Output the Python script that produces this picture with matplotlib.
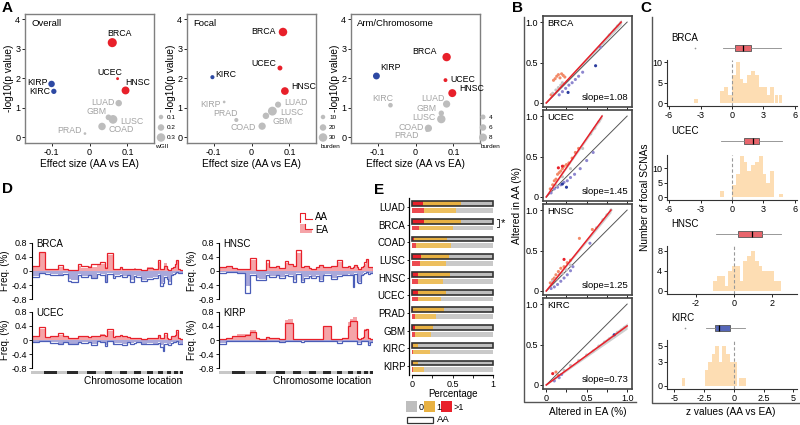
import numpy as np
import matplotlib.pyplot as plt

plt.rcParams['font.family'] = ['Liberation Sans', 'DejaVu Sans']
plt.rcParams['axes.unicode_minus'] = False
plt.rcParams['xtick.labelsize'] = 6.5
plt.rcParams['ytick.labelsize'] = 6.5
plt.rcParams['xtick.major.size'] = 2.2
plt.rcParams['ytick.major.size'] = 2.2
plt.rcParams['xtick.major.width'] = 0.6
plt.rcParams['ytick.major.width'] = 0.6
plt.rcParams['xtick.major.pad'] = 1.2
plt.rcParams['ytick.major.pad'] = 1.2

RED = "#E8202A"
BLUE = "#2D49A3"
GRAY = "#BDBDBD"
TXT_GRAY = "#A3A3A3"

# =========================
# A: effect size vs p value
# =========================
a_names = ["BRCA", "UCEC", "HNSC", "KIRP", "KIRC", "LUAD", "GBM", "LUSC", "COAD", "PRAD"]

overall_x = [0.060, 0.074, 0.095, -0.100, -0.094, 0.077, 0.050, 0.062, 0.033, -0.012]
overall_y = [3.20, 1.98, 1.58, 1.80, 1.55, 1.15, 0.67, 0.60, 0.36, 0.12]
overall_wgii = [0.33, 0.02, 0.27, 0.20, 0.14, 0.20, 0.16, 0.31, 0.25, 0.01]
overall_col = ["r", "r", "r", "b", "b", "g", "g", "g", "g", "g"]

focal_x = [0.083, 0.075, 0.088, -0.072, -0.103, 0.070, 0.038, 0.055, 0.028, -0.040]
focal_y = [3.56, 2.34, 1.56, 1.19, 2.03, 1.10, 0.72, 0.88, 0.37, 0.58]
focal_burden = [30, 12, 26, 1, 8, 18, 20, 32, 24, 8]
focal_col = ["r", "r", "r", "g", "b", "g", "g", "g", "g", "g"]

arm_x = [0.082, 0.079, 0.097, -0.103, -0.066, 0.082, 0.068, 0.068, 0.034, 0.030]
arm_y = [2.71, 1.93, 1.49, 2.07, 1.08, 1.12, 0.81, 0.61, 0.30, 0.22]
arm_burden = [8.5, 2.5, 8.0, 6.5, 3.5, 7.0, 4.5, 8.5, 7.0, 1.0]
arm_col = ["r", "r", "r", "b", "g", "g", "g", "g", "g", "g"]

# =========================
# B: altered in AA vs EA
# =========================
b_names = ["BRCA", "UCEC", "HNSC", "KIRC"]
b_slopes = [1.08, 1.45, 1.25, 0.73]

brca_ea = [0.06, 0.09, 0.11, 0.13, 0.15, 0.17, 0.19, 0.21, 0.23, 0.08, 0.12, 0.15, 0.18, 0.20,
           0.16, 0.20, 0.24, 0.28, 0.32, 0.36, 0.40, 0.45, 0.27, 0.61, 0.67, 0.70, 0.78, 0.84, 0.88, 0.92]
brca_aa = [0.10, 0.28, 0.30, 0.33, 0.35, 0.31, 0.36, 0.34, 0.32, 0.12, 0.16, 0.19, 0.22, 0.25,
           0.10, 0.14, 0.18, 0.22, 0.25, 0.29, 0.33, 0.38, 0.13, 0.46, 0.69, 0.74, 0.84, 0.90, 0.95, 0.99]
brca_grp = "sssssssss" + "ggggg" + "pppppppp" + "b" + "b" + "p" + "ggggg"

ucec_ea = [0.05, 0.08, 0.10, 0.12, 0.14, 0.16, 0.18, 0.20, 0.22, 0.25, 0.28, 0.32, 0.36, 0.40, 0.15, 0.20,
           0.06, 0.10, 0.14, 0.18, 0.22, 0.26, 0.30, 0.35, 0.42, 0.50, 0.58, 0.20, 0.25,
           0.12, 0.20, 0.30, 0.45, 0.55, 0.60, 0.65]
ucec_aa = [0.10, 0.15, 0.20, 0.22, 0.28, 0.30, 0.32, 0.35, 0.38, 0.40, 0.42, 0.48, 0.55, 0.60, 0.36, 0.38,
           0.05, 0.10, 0.12, 0.15, 0.18, 0.20, 0.24, 0.28, 0.35, 0.45, 0.55, 0.16, 0.12,
           0.14, 0.25, 0.35, 0.60, 0.78, 0.85, 0.93]
ucec_grp = "ssssssssssssss" + "rr" + "ppppppppppp" + "bb" + "ggggggg"

hnsc_ea = [0.05, 0.08, 0.10, 0.12, 0.15, 0.18, 0.22, 0.26, 0.30, 0.22, 0.41, 0.57,
           0.06, 0.10, 0.14, 0.18, 0.22, 0.26, 0.30, 0.33, 0.54,
           0.08, 0.12, 0.16, 0.20, 0.25, 0.30, 0.62, 0.70, 0.75, 0.80]
hnsc_aa = [0.10, 0.14, 0.16, 0.20, 0.24, 0.28, 0.30, 0.35, 0.38, 0.39, 0.65, 0.76,
           0.03, 0.05, 0.08, 0.12, 0.16, 0.20, 0.25, 0.30, 0.59,
           0.12, 0.15, 0.20, 0.22, 0.26, 0.32, 0.78, 0.88, 0.94, 1.00]
hnsc_grp = "sssssssss" + "rss" + "ppppppppp" + "gggggg" + "gggg"

kirc_ea = [0.08, 0.12, 0.15, 0.10, 0.16, 0.19, 0.22, 0.30, 0.40, 0.50, 0.58, 0.65, 0.84,
           0.72, 0.78, 0.88, 0.93, 0.97]
kirc_aa = [0.14, 0.16, 0.12, 0.05, 0.09, 0.13, 0.18, 0.24, 0.30, 0.37, 0.42, 0.48, 0.62,
           0.53, 0.57, 0.65, 0.68, 0.71]
kirc_grp = "rss" + "ppp" + "gggggg" + "b" + "ggggg"

# =========================
# C: z value histograms (bin centres, counts) + box stats
# =========================
c_names = ["BRCA", "UCEC", "HNSC", "KIRC"]
brca_z = [-3.44, -0.92, -0.54, -0.19, 0.19, 0.54, 0.89, 1.24, 1.62, 2.00, 2.36, 2.74, 3.12, 3.47, 3.85, 4.24, 4.62]
brca_n = [1, 3, 4, 2, 7, 10, 6, 5, 7, 8, 7, 4, 4, 2, 4, 2, 2]
ucec_z = [-0.92, 0.19, 0.54, 0.92, 1.27, 1.65, 2.00, 2.38, 2.73, 3.11, 3.46, 3.84, 4.70]
ucec_n = [2, 4, 8, 14, 12, 9, 11, 12, 14, 8, 5, 9, 1]
hnsc_z = [-1.0, -0.8, -0.6, -0.4, -0.2, 0.0, 0.2, 0.4, 0.6, 0.8, 1.0, 1.2, 1.4, 1.6, 1.8, 2.0, 2.2, 2.4]
hnsc_n = [2, 3, 3, 1, 4, 5, 5, 2, 6, 7, 8, 6, 5, 4, 4, 4, 2, 2]
kirc_z = [-4.2, -2.3, -2.0, -1.7, -1.4, -1.1, -0.8, -0.5, -0.2, 0.1, 0.55, 0.85]
kirc_n = [1, 2, 3, 4, 5, 3, 5, 4, 3, 3, 1, 1]
c_bin_w = [0.36, 0.36, 0.2, 0.3]
c_xlim = [(-6.2, 6.2), (-6.2, 6.2), (-3.53, 3.32), (-5.6, 5.3)]
c_xticks = [[-6, -3, 0, 3, 6], [-6, -3, 0, 3, 6], [-2, 0, 2], [-5, -2.5, 0, 2.5, 5]]
c_yticks = [[0, 5, 10], [0, 5, 10], [0, 4, 8], [0, 3, 5]]
c_ylim = [(-0.7, 10.6), (-1.0, 14.5), (-0.6, 9.0), (-0.38, 5.75)]
c_box = [  # whislo, q1, med, q3, whishi, fliers
    (-0.9, 0.3, 1.05, 1.85, 4.7, [-3.5]),
    (-1.05, 1.1, 1.97, 2.6, 4.8, []),
    (-0.95, 0.23, 0.93, 1.49, 2.5, []),
    (-2.3, -1.58, -1.22, -0.33, 0.92, [-4.1]),
]

# =========================
# D: arm level frequency (arms 1p..22q, Mb)
# =========================
arm_len = [125, 124, 93, 150, 91, 107, 50, 141, 48, 133, 60, 111, 60, 99, 45, 101, 49, 92, 40, 96,
           53, 82, 35, 99, 115, 107, 102, 36, 54, 24, 57, 17, 61, 26, 33, 28, 35, 48, 51]
chrom_len = [249, 243, 198, 191, 181, 171, 159, 146, 141, 136, 135, 134, 115, 107, 102, 90, 81, 78, 59, 63, 48, 51]

brca_gain_aa = [.15, .55, .05, .06, .18, .05, .03, .03, .20, .15, .12, .20, .20, .25, .08, .52, .05, .06, .12, .05,
                .06, .05, .06, .05, .04, .08, .05, .30, .05, .05, .15, .06, .04, .08, .12, .20, .32, .05, .03]
brca_gain_ea = [.12, .50, .06, .07, .12, .06, .03, .04, .15, .08, .14, .12, .18, .20, .10, .45, .05, .07, .10, .05,
                .05, .07, .08, .05, .04, .10, .05, .25, .05, .04, .22, .05, .03, .07, .10, .20, .28, .04, .03]
brca_loss_aa = [-.18, -.06, -.08, -.10, -.12, -.08, -.28, -.30, -.10, -.18, -.12, -.20, -.08, -.10, -.32, -.08,
                -.20, -.15, -.10, -.18, -.12, -.30, -.15, -.18, -.28, -.22, -.20, -.10, -.42, -.35, -.18, -.22,
                -.38, -.12, -.08, -.06, -.04, -.05, -.06]
brca_loss_ea = [-.15, -.08, -.07, -.08, -.10, -.07, -.22, -.25, -.08, -.15, -.10, -.22, -.07, -.08, -.30, -.06,
                -.18, -.12, -.08, -.15, -.10, -.25, -.12, -.15, -.25, -.20, -.18, -.08, -.38, -.30, -.15, -.20,
                -.32, -.10, -.07, -.05, -.04, -.05, -.05]

ucec_gain_aa = [.12, .37, .08, .10, .20, .10, .05, .05, .12, .10, .08, .12, .12, .15, .10, .30, .08, .10, .15, .12,
                .08, .06, .07, .05, .04, .05, .06, .15, .05, .05, .20, .05, .04, .10, .12, .15, .28, .06, .03]
ucec_gain_ea = [.10, .30, .08, .09, .15, .08, .05, .05, .10, .08, .08, .10, .12, .18, .08, .25, .06, .08, .12, .10,
                .07, .06, .06, .05, .04, .05, .05, .12, .05, .04, .15, .04, .04, .08, .10, .12, .22, .05, .03]
ucec_loss_aa = [-.05, -.02, -.04, -.08, -.12, -.05, -.10, -.12, -.05, -.08, -.06, -.15, -.04, -.05, -.18, -.04,
                -.12, -.10, -.10, -.15, -.06, -.10, -.08, -.06, -.12, -.10, -.12, -.08, -.20, -.30, -.10, -.12,
                -.15, -.08, -.06, -.05, -.03, -.10, -.12]
ucec_loss_ea = [-.06, -.03, -.05, -.07, -.10, -.06, -.10, -.10, -.06, -.07, -.06, -.12, -.05, -.05, -.15, -.05,
                -.10, -.08, -.08, -.12, -.07, -.08, -.07, -.06, -.10, -.08, -.10, -.07, -.15, -.20, -.08, -.10,
                -.12, -.07, -.06, -.05, -.04, -.08, -.10]

hnsc_gain_aa = [.10, .15, .08, .06, .05, .38, .04, .03, .30, .12, .15, .08, .28, .20, .15, .60, .12, .15, .08, .06,
                .10, .18, .12, .10, .15, .32, .10, .15, .08, .10, .18, .12, .06, .12, .15, .25, .35, .10, .10]
hnsc_gain_ea = [.08, .12, .06, .06, .05, .32, .04, .03, .22, .10, .12, .08, .22, .18, .12, .50, .10, .12, .08, .06,
                .08, .15, .10, .08, .12, .25, .08, .12, .07, .08, .15, .10, .05, .10, .12, .20, .30, .08, .08]
hnsc_loss_aa = [-.05, -.03, -.04, -.05, -.62, -.10, -.25, -.25, -.10, -.18, -.12, -.20, -.10, -.15, -.30, -.08,
                -.32, -.20, -.15, -.20, -.15, -.28, -.12, -.10, -.22, -.15, -.12, -.10, -.12, -.45, -.08, -.30,
                -.35, -.12, -.08, -.05, -.03, -.08, -.05]
hnsc_loss_ea = [-.04, -.03, -.04, -.05, -.42, -.08, -.20, -.22, -.08, -.15, -.10, -.18, -.08, -.12, -.25, -.07,
                -.28, -.18, -.12, -.18, -.12, -.25, -.10, -.08, -.20, -.12, -.10, -.08, -.10, -.35, -.07, -.25,
                -.30, -.10, -.07, -.04, -.03, -.06, -.05]

kirp_gain_aa = [.02, .05, .10, .12, .15, .22, .05, .03, .08, .05, .05, .04, .48, .48, .03, .04, .02, .03, .04, .02,
                .03, .04, .40, .40, .03, .02, .05, .40, .55, .55, .55, .05, .03, .05, .08, .28, .30, .05, .04]
kirp_gain_ea = [.02, .06, .12, .18, .18, .28, .05, .03, .08, .06, .05, .04, .58, .60, .03, .04, .02, .03, .04, .02,
                .03, .04, .38, .38, .03, .02, .05, .50, .60, .65, .65, .05, .03, .05, .08, .32, .32, .05, .04]
kirp_loss_aa = [-.10, -.03, -.03, -.03, -.04, -.03, -.03, -.03, -.03, -.03, -.03, -.06, -.02, -.02, -.04, -.03,
                -.05, -.03, -.03, -.03, -.03, -.03, -.02, -.02, -.03, -.08, -.03, -.02, -.02, -.04, -.03, -.10,
                -.10, -.03, -.03, -.03, -.03, -.15, -.05]
kirp_loss_ea = [-.08, -.04, -.03, -.03, -.04, -.03, -.04, -.04, -.03, -.03, -.05, -.08, -.02, -.02, -.04, -.03,
                -.04, -.03, -.03, -.03, -.03, -.03, -.02, -.02, -.03, -.06, -.03, -.02, -.02, -.03, -.03, -.08,
                -.08, -.03, -.03, -.03, -.03, -.12, -.05]

# =========================
# E: fraction of samples with 0 / 1 / >1 events
# =========================
e_names = ["LUAD", "BRCA", "COAD", "LUSC", "HNSC", "UCEC", "PRAD", "GBM", "KIRC", "KIRP"]
e_aa_gt1 = [0.13, 0.14, 0.02, 0.11, 0.07, 0.07, 0.01, 0.03, 0.01, 0.01]
e_aa_one = [0.47, 0.46, 0.41, 0.35, 0.40, 0.35, 0.38, 0.23, 0.06, 0.06]
e_ea_gt1 = [0.15, 0.09, 0.05, 0.10, 0.07, 0.07, 0.03, 0.04, 0.01, 0.01]
e_ea_one = [0.39, 0.42, 0.43, 0.32, 0.31, 0.29, 0.27, 0.19, 0.21, 0.14]

# =========================
# figure helpers
# =========================
W, H = 800, 425
PX = 0.72  # points per pixel at 100 dpi
fig = plt.figure(figsize=(W / 100, H / 100), dpi=100)


def add_ax(l, t, r, b):
    return fig.add_axes([l / W, 1 - b / H, (r - l) / W, (b - t) / H])


col_a = {"r": RED, "b": BLUE, "g": GRAY}

# ---------- A ----------
a_panels = [
    ((25, 14, 154, 143), "Overall", overall_x, overall_y, overall_wgii, overall_col, (2.5, 20.0),
     [(7, -9, "center"), (-8, -6, "center"), (0, -8, "left"), (-4, -1, "right"), (-4, 0, "right"),
      (-4, -1, "right"), (-2, -6, "right"), (7, 2, "left"), (6, 3, "left"), (-3, -3, "right")]),
    ((187, 14, 316, 143), "Focal", focal_x, focal_y, focal_burden, focal_col, (2.5, 0.2),
     [(-7, -1, "right"), (-4, -5, "right"), (6, -5, "left"), (-3, 3, "right"), (3, -3, "left"),
      (6, -2, "left"), (7, 6, "left"), (8, 1, "left"), (-6, 1, "right"), (1, -6, "right")]),
    ((351, 14, 480, 143), "Arm/Chromosome", arm_x, arm_y, arm_burden, arm_col, (2.0, 0.75),
     [(-10, -6, "right"), (5, -1, "left"), (7, -5, "left"), (4, -8, "left"), (-8, -7, "center"),
      (-2, -6, "right"), (-5, -5, "right"), (-6, -2, "right"), (-5, -1, "right"), (-8, 5, "right")]),
]
for box, title, xs, ys, sz, cols, (sb, sk), offs in a_panels:
    ax = add_ax(*box)
    d = sb + sk * np.array(sz)
    ax.scatter(xs, ys, s=(d * PX) ** 2, c=[col_a[c] for c in cols], linewidths=0, zorder=3)
    for name, x, y, c, (dx, dy, ha) in zip(a_names, xs, ys, cols, offs):
        ax.annotate(name, (x, y), xytext=(dx * PX, -dy * PX), textcoords="offset points",
                    ha=ha, va="center", fontsize=6.3, color="black" if c != "g" else TXT_GRAY)
    ax.set_xlim(-0.17, 0.17)
    ax.set_ylim(-0.2, 4.17)
    ax.set_xticks([-0.1, 0, 0.1])
    ax.set_xticklabels(["-0.1", "0", "0.1"])
    ax.set_yticks([0, 1, 2, 3, 4])
    for sp in ax.spines.values():
        sp.set_color("#7F7F7F")
        sp.set_linewidth(1.0)
    ax.text(0.05, 0.93, title, transform=ax.transAxes, fontsize=6.8, va="center")
    ax.set_xlabel("Effect size (AA vs EA)", fontsize=7.3, labelpad=1.5)
    ax.set_ylabel("-log10(p value)", fontsize=7.3, labelpad=1)

# ---------- B ----------
b_pts = [(brca_ea, brca_aa, brca_grp), (ucec_ea, ucec_aa, ucec_grp),
         (hnsc_ea, hnsc_aa, hnsc_grp), (kirc_ea, kirc_aa, kirc_grp)]
col_b = {"s": "#F28A68", "r": RED, "g": "#C4C4C4", "p": "#8D86CF", "b": "#2A3C9E"}
for i, (name, slope, (ex, aa, grp)) in enumerate(zip(b_names, b_slopes, b_pts)):
    top = 16 + i * 94
    ax = add_ax(543, top, 632, top + 91)
    xe = min(1.0, 1.0 / slope)
    xs = np.linspace(0, xe, 30)
    ax.fill_between(xs, slope * xs - 0.004 - 0.035 * xs, slope * xs + 0.004 + 0.035 * xs,
                    color="#CFCFCF", lw=0, zorder=1)
    ax.plot([0, 1], [0, 1], color="#555555", lw=0.7, zorder=2)
    ax.scatter(ex, aa, s=5, c=[col_b[g] for g in grp], linewidths=0, zorder=3)
    ax.plot([0, xe], [0, slope * xe], color=RED, lw=1.1, zorder=4)
    ax.set_xlim(-0.04, 1.06)
    ax.set_ylim(-0.05, 1.075)
    ax.set_xticks([0, 0.25, 0.5, 0.75, 1.0])
    ax.set_yticks([0, 0.5, 1.0])
    ax.set_yticklabels(["0", "0.5", "1.0"])
    if i == 3:
        ax.set_xticklabels(["0", "", "0.5", "", "1.0"])
    else:
        ax.set_xticklabels([])
    for sp in ax.spines.values():
        sp.set_color("#444444")
        sp.set_linewidth(1.2)
    ax.text(0.05, 0.92, name, transform=ax.transAxes, fontsize=6.8, va="center")
    ax.text(0.96, 0.1, "slope=%.2f" % slope, transform=ax.transAxes, fontsize=6.8,
            ha="right", va="center")

# ---------- C ----------
c_hist = [(brca_z, brca_n), (ucec_z, ucec_n), (hnsc_z, hnsc_n), (kirc_z, kirc_n)]
c_rows = [(44, 52, 60, 106), (137, 145, 155, 200), (230, 238, 246, 294), (324, 332, 340, 389)]
for i, name in enumerate(c_names):
    bt, bb, ht, hb = c_rows[i]
    z, n = c_hist[i]
    hx = add_ax(667, ht, 797, hb)
    hx.bar(z, n, width=c_bin_w[i], color="#FDDDB3", linewidth=0)
    hx.axvline(0, color="#999999", lw=0.8, ls=(0, (3, 2)))
    hx.set_xlim(*c_xlim[i])
    hx.set_ylim(*c_ylim[i])
    hx.set_xticks(c_xticks[i])
    hx.set_xticklabels([("%g" % t) for t in c_xticks[i]])
    hx.set_yticks(c_yticks[i])
    for s in ["top", "right"]:
        hx.spines[s].set_visible(False)
    for s in ["left", "bottom"]:
        hx.spines[s].set_linewidth(0.8)
        hx.spines[s].set_color("#333333")
    hx.patch.set_alpha(0)

    bx = add_ax(667, bt, 797, bb)
    wl, q1, med, q3, wh, fl = c_box[i]
    stats = [dict(whislo=wl, q1=q1, med=med, q3=q3, whishi=wh, fliers=fl)]
    fc = "#E8656C" if i < 3 else "#5566B8"
    bx.bxp(stats, orientation="horizontal", widths=0.8, patch_artist=True, showcaps=False,
           boxprops=dict(facecolor=fc, edgecolor="#555555", lw=0.6),
           whiskerprops=dict(color="#888888", lw=0.6),
           medianprops=dict(color="black", lw=0.9),
           flierprops=dict(marker="o", markersize=1.2, markerfacecolor="#999999",
                           markeredgecolor="none"))
    bx.set_xlim(*c_xlim[i])
    bx.set_ylim(0.4, 1.6)
    bx.axis("off")

# ---------- D ----------
edges = np.concatenate([[0], np.cumsum(arm_len)])
total = edges[-1]
d_data = [("BRCA", brca_gain_aa, brca_gain_ea, brca_loss_aa, brca_loss_ea),
          ("UCEC", ucec_gain_aa, ucec_gain_ea, ucec_loss_aa, ucec_loss_ea),
          ("HNSC", hnsc_gain_aa, hnsc_gain_ea, hnsc_loss_aa, hnsc_loss_ea),
          ("KIRP", kirp_gain_aa, kirp_gain_ea, kirp_loss_aa, kirp_loss_ea)]
d_boxes = [(32, 241, 183, 301), (32, 310, 183, 370), (219, 241, 373, 301), (219, 310, 373, 370)]
for (name, gaa, gea, laa, lea), box in zip(d_data, d_boxes):
    ax = add_ax(*box)
    ax.stairs(gea, edges, baseline=0, fill=True, color="#F5A4A8", lw=0)
    ax.stairs(lea, edges, baseline=0, fill=True, color="#A9A8DA", lw=0)
    ax.stairs(gaa, edges, baseline=0, color="#E8202A", lw=0.9)
    ax.stairs(laa, edges, baseline=0, color="#4A5DB8", lw=0.9)
    ax.set_xlim(0, total)
    ax.set_ylim(-0.85, 0.85)
    ax.set_yticks([-0.8, -0.4, 0, 0.4, 0.8])
    ax.set_yticklabels(["-0.8", "-0.4", "0", "0.4", "0.8"])
    ax.set_xticks([])
    for s in ["top", "right", "bottom"]:
        ax.spines[s].set_visible(False)
    ax.spines["left"].set_linewidth(0.8)
    ax.spines["left"].set_bounds(-0.8, 0.8)
    ax.set_ylabel("Freq. (%)", fontsize=7, labelpad=1)
    ax.text(0.03, 0.95, name, transform=ax.transAxes, fontsize=7, va="center")
    ax.patch.set_alpha(0)

chrom_start = np.concatenate([[0], np.cumsum(chrom_len)[:-1]])
band_cols = ["#C8C8C8" if k % 2 == 0 else "#2A2A2A" for k in range(len(chrom_len))]
for l, r in [(31, 183), (219, 373)]:
    cb = add_ax(l, 371, r, 374)
    cb.barh(0, chrom_len, left=chrom_start, height=1, color=band_cols, linewidth=0)
    cb.set_xlim(0, total)
    cb.set_ylim(-0.5, 0.5)
    cb.axis("off")

# ---------- E ----------
ex = add_ax(409, 198, 497, 375)
rows = np.arange(len(e_names))
aa_gt1 = np.array(e_aa_gt1)
aa_one = np.array(e_aa_one)
ea_gt1 = np.array(e_ea_gt1)
ea_one = np.array(e_ea_one)
h = 0.27
ex.barh(rows - 0.18, aa_gt1, height=h, color="#E8202A", lw=0)
ex.barh(rows - 0.18, aa_one, left=aa_gt1, height=h, color="#E8B142", lw=0)
ex.barh(rows - 0.18, 1 - aa_gt1 - aa_one, left=aa_gt1 + aa_one, height=h, color="#BEBEBE", lw=0)
ex.barh(rows - 0.18, np.ones(len(rows)), height=h, fill=False, edgecolor="#333333", lw=1.2)
ex.barh(rows + 0.2, ea_gt1, height=h, color="#EC4A4F", lw=0)
ex.barh(rows + 0.2, ea_one, left=ea_gt1, height=h, color="#EDBF5E", lw=0)
ex.barh(rows + 0.2, 1 - ea_gt1 - ea_one, left=ea_gt1 + ea_one, height=h, color="#C9C9C9", lw=0)
ex.set_ylim(len(e_names) - 0.5, -0.5)
ex.set_xlim(-0.04, 1.05)
ex.set_yticks(rows)
ex.set_yticklabels(e_names, fontsize=7)
ex.set_xticks([0, 0.25, 0.5, 0.75, 1])
ex.set_xticklabels(["0", "", "0.5", "", "1"])
ex.set_xlabel("Percentage", fontsize=7, labelpad=0)
for s in ["top", "right"]:
    ex.spines[s].set_visible(False)
for s in ["left", "bottom"]:
    ex.spines[s].set_linewidth(0.9)
ex.spines["bottom"].set_bounds(0, 1)
ex.tick_params(axis="y", length=1.5)
ex.patch.set_alpha(0)

# ---------- overlay: letters, frames, legends ----------
ov = fig.add_axes([0, 0, 1, 1])
ov.set_xlim(0, W)
ov.set_ylim(H, 0)
ov.axis("off")
ov.patch.set_alpha(0)

for letter, x, y in [("A", 2, 8), ("B", 512, 8), ("C", 640, 8), ("D", 2, 189), ("E", 374, 190)]:
    ov.text(x, y, letter, fontsize=11, fontweight="bold", va="center", ha="left")

# size legends for A
size_leg = [(161, [0.1, 0.2, 0.3], ["0.1", "0.2", "0.3"], "wGII", (2.5, 20.0), 162),
            (323, [10, 20, 30], ["10", "20", "30"], "burden", (2.5, 0.2), 331),
            (483, [4, 6, 8], ["4", "6", "8"], "burden", (2.0, 0.75), 491)]
for x0, vals, labs, ttl, (sb, sk), tx in size_leg:
    ys = [117, 127.5, 137.5]
    d = sb + sk * np.array(vals)
    ov.scatter([x0] * 3, ys, s=(d * PX) ** 2, c=GRAY, linewidths=0)
    for yy, lb in zip(ys, labs):
        ov.text(x0 + 6, yy, lb, fontsize=4.6, va="center")
    ov.text(tx, 147, ttl, fontsize=4.6, ha="center", va="center")

# B frame and labels
ov.plot([524, 524, 636], [17, 402, 402], color="#555555", lw=1.0)
ov.text(517, 205, "Altered in AA (%)", rotation=90, fontsize=7.3, ha="center", va="center")
ov.text(588, 412, "Altered in EA (%)", fontsize=7.3, ha="center", va="center")

# C frame and labels
ov.plot([652, 652, 800], [17, 403, 403], color="#555555", lw=1.0)
ov.text(645, 197, "Number of focal SCNAs", rotation=90, fontsize=7.3, ha="center", va="center")
ov.text(731, 412, "z values (AA vs EA)", fontsize=7.3, ha="center", va="center")
for (bt, bb, ht, hb), name in zip(c_rows, c_names):
    ov.text(671, bt - 6, name, fontsize=7, va="center")

# D labels and legend
ov.text(133, 381, "Chromosome location", fontsize=7.3, ha="center", va="center")
ov.text(322, 381, "Chromosome location", fontsize=7.3, ha="center", va="center")
ov.fill([300, 300, 305, 305, 312, 312], [233, 224, 224, 229, 229, 233], color="#F5A4A8", lw=0)
ov.plot([300, 300, 305, 305, 312], [222, 213, 213, 219, 219], color="#E8202A", lw=0.8)
ov.plot([305, 305, 312], [224, 229, 229], color="#E8202A", lw=0.8)
ov.text(315, 217, "AA", fontsize=7, va="center")
ov.text(315, 230, "EA", fontsize=7, va="center")

# E bracket and legend
ov.plot([497, 499, 499, 497], [219, 219, 227, 227], color="#333333", lw=0.7)
ov.text(501, 223, "*", fontsize=8, va="center")
for x0, c, lb in [(406, "#BEBEBE", "0"), (424, "#E8B142", "1"), (441, "#E8202A", ">1")]:
    ov.add_patch(plt.Rectangle((x0, 401), 11, 11, color=c, lw=0))
    ov.text(x0 + 12.5, 407, lb, fontsize=6.5, va="center")
ov.add_patch(plt.Rectangle((407, 417), 26, 6, fill=False, edgecolor="#333333", lw=0.9))
ov.text(437, 420, "AA", fontsize=6.8, va="center")

fig.savefig("out.png", dpi=100)
